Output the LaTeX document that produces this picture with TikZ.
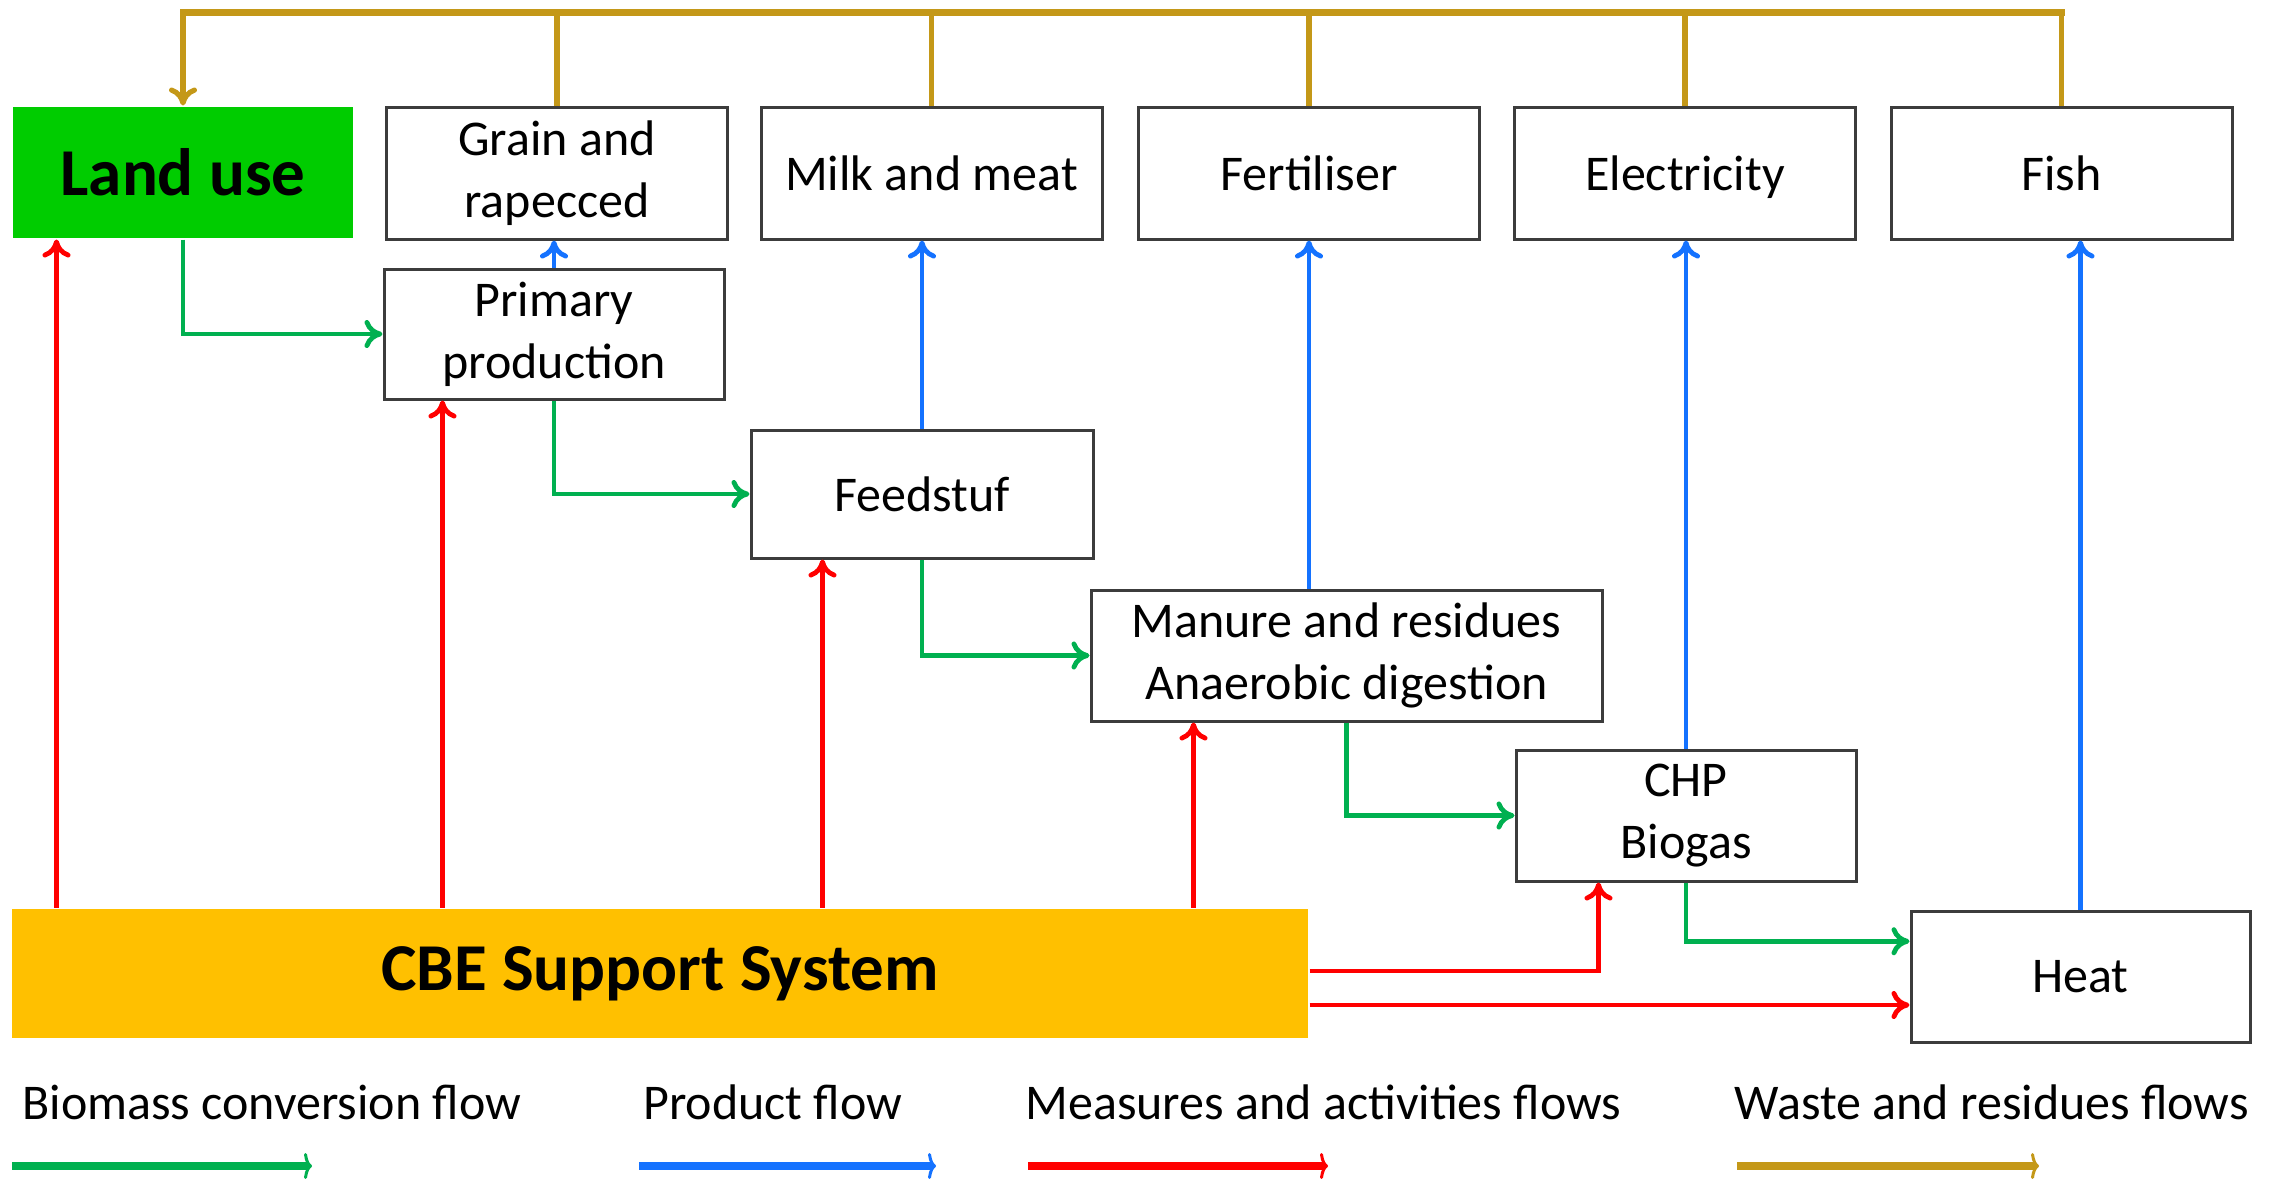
\documentclass[tikz,border=0pt]{standalone}
\usepackage{fontspec}
\setmainfont{Carlito}
\usetikzlibrary{arrows.meta,calc}
\definecolor{cgreen}{RGB}{0,176,80}
\definecolor{cblue}{RGB}{20,114,255}
\definecolor{cred}{RGB}{255,0,0}
\definecolor{cgold}{RGB}{196,152,24}
\definecolor{boxc}{RGB}{60,60,60}
\definecolor{landc}{RGB}{0,204,0}
\definecolor{cbec}{RGB}{255,192,0}
\begin{document}
\begin{tikzpicture}[x=0.5pt,y=-0.5pt,
  box/.style={draw=boxc, line width=1.5pt, fill=white, align=center, inner sep=0pt,
    minimum width=170.5pt, minimum height=66pt, text=black,
    font=\fontsize{25}{31}\selectfont},
  flow/.style={line width=2.4pt, -{To[length=9pt,width=14pt]}},
  gr/.style={flow, draw=cgreen},
  bl/.style={flow, draw=cblue},
  rd/.style={flow, draw=cred},
  gd/.style={line width=2.6pt, draw=cgold},
  leg/.style={font=\fontsize{25}{30}\selectfont, inner sep=0pt, text=black},
  legarrow/.style={line width=4pt, -{To[length=4pt,width=13pt,line width=1.5pt]}}
]
\useasboundingbox (0,0) rectangle (2277,1179);

% top row
\node[box, draw=none, fill=landc, minimum width=170pt, minimum height=65.5pt,
  font=\bfseries\fontsize{33.5}{40}\selectfont] (land) at (183,172.5) {Land use};
\node[box] (grain) at (557,173) {Grain and\\rapecced};
\node[box] (milk) at (931.5,173) {Milk and meat};
\node[box] (fert) at (1309,173) {Fertiliser};
\node[box, text depth=0pt] (elec) at (1685,173) {Electricity};
\node[box] (fish) at (2061.5,173) {Fish};

% process chain
\node[box, minimum width=170pt, minimum height=65pt] (prim) at (554,334) {Primary\\production};
\node[box, minimum width=171pt, minimum height=64pt] (feed) at (922,494) {Feedstuf};
\node[box, minimum width=255.5pt, minimum height=65.5pt] (manure) at (1346.5,655.5) {Manure and residues\\Anaerobic digestion};
\node[box, minimum width=170pt, minimum height=65.5pt] (chp) at (1686,815.5) {CHP\\Biogas};
\node[box, minimum width=169.5pt, minimum height=65.5pt] (heat) at (2080.5,976.5) {Heat};

% support system
\node[box, draw=none, fill=cbec, minimum width=648pt, minimum height=64.5pt,
  font=\bfseries\fontsize{33.5}{40}\selectfont] (cbe) at (660,973.5) {CBE Support System};

% waste and residues flows (gold)
\coordinate (gtop) at (0,12);
\draw[gd, line width=3.5pt, line cap=rect] (land.north |- gtop) -- (fish.north |- gtop);
\draw[gd, -{To[length=9pt,width=14pt]}] (land.north |- gtop) -- (land.north);
\foreach \n in {grain,milk,fert,elec,fish}
  \draw[gd] (\n.north) -- (\n.north |- gtop);

% biomass conversion flows (green)
\draw[gr] (land.south) |- (prim.west);
\draw[gr] (prim.south) |- (feed.west);
\draw[gr] (feed.south) |- (manure.west);
\draw[gr] (manure.south) |- (chp.west);
\draw[gr] (chp.south) |- ($(heat.north west)!0.237!(heat.south west)$);

% product flows (blue)
\draw[bl] (prim.north) -- (prim.north |- grain.south);
\draw[bl] (feed.north) -- (feed.north |- milk.south);
\draw[bl] (fert.south |- manure.north) -- (fert.south);
\draw[bl] (chp.north) -- (chp.north |- elec.south);
\draw[bl] (heat.north) -- (heat.north |- fish.south);

% measures and activities flows (red)
\coordinate (r1) at ($(cbe.north west)+(46,0)$);
\coordinate (r2) at ($(cbe.north west)+(432,0)$);
\coordinate (r3) at ($(cbe.north west)+(812,0)$);
\coordinate (r4) at ($(cbe.north west)+(1183,0)$);
\coordinate (r5) at ($(cbe.east)+(0,-2.5)$);
\coordinate (r6) at ($(cbe.east)+(0,31.5)$);
\draw[rd] (r1) -- (r1 |- land.south);
\draw[rd] (r2) -- (r2 |- prim.south);
\draw[rd] (r3) -- (r3 |- feed.south);
\draw[rd] (r4) -- (r4 |- manure.south);
\draw[rd] (r5) -| ($(chp.south west)+(84,0)$);
\draw[rd] (r6) -- (r6 -| heat.west);

% legend
\node[leg, anchor=base west] (l1) at (22,1119) {Biomass conversion flow};
\node[leg, anchor=base west] (l2) at (643,1119) {Product flow};
\node[leg, anchor=base west] (l3) at (1025,1119) {Measures and activities flows};
\node[leg, anchor=base west] (l4) at (1734,1119) {Waste and residues flows};
\coordinate (a1s) at (12,1166);   \coordinate (a1e) at (312,1166);
\coordinate (a2s) at (639,1166);  \coordinate (a2e) at (936,1166);
\coordinate (a3s) at (1028,1166); \coordinate (a3e) at (1328,1166);
\coordinate (a4s) at (1737,1166); \coordinate (a4e) at (2039,1166);
\draw[legarrow, draw=cgreen] (a1s) -- (a1e);
\draw[legarrow, draw=cblue] (a2s) -- (a2e);
\draw[legarrow, draw=cred] (a3s) -- (a3e);
\draw[legarrow, draw=cgold] (a4s) -- (a4e);
\end{tikzpicture}
\end{document}
